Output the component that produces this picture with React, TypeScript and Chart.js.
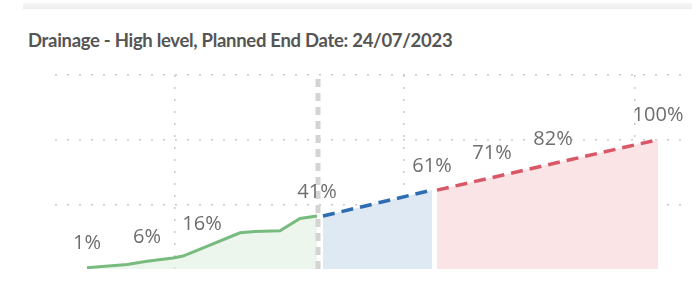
import React, { useEffect, useRef } from "react";
import { Chart, registerables } from "chart.js";

Chart.register(...registerables);

// x positions are in "timeline units"; y values are percent complete
const actualX = [3.2, 7.2, 9.2, 11.8, 12.8, 14.7, 18.5, 20.0, 22.5, 24.5, 26.2];
const actualY = [1, 3.5, 6, 8.5, 10, 16, 28, 29, 29.5, 39, 41];
const nearX = [26.8, 37.7];
const nearY = [41, 61];
const laterX = [38.2, 60.3];
const laterY = [61, 100];
const todayX = 26.3;
const labelX = [3.2, 9.2, 14.7, 26.2, 37.7, 43.7, 49.8, 60.3];
const labelY = [1, 6, 16, 41, 61, 71, 82, 100];
const labelText = ["1%", "6%", "16%", "41%", "61%", "71%", "82%", "100%"];
const gridX = [12, 34.9, 58];
const gridY = [50, 100, 150];
const title = "Drainage - High level, Planned End Date: 24/07/2023";

const pts = (xs: number[], ys: number[]) => xs.map((x, i) => ({ x, y: ys[i] }));

const labelPlugin = {
  id: "pctLabels",
  afterDatasetsDraw(chart: any) {
    const { ctx, scales } = chart;
    ctx.save();
    ctx.font = '20px "Open Sans", sans-serif';
    ctx.fillStyle = "#6e6e6e";
    ctx.textAlign = "center";
    ctx.textBaseline = "middle";
    labelX.forEach((x, i) => {
      const px = scales.x.getPixelForValue(x);
      const py = scales.y.getPixelForValue(labelY[i]);
      ctx.fillText(labelText[i], px, py - 24);
    });
    ctx.restore();
  },
};

export default function App() {
  const ref = useRef<HTMLCanvasElement | null>(null);
  useEffect(() => {
    if (!ref.current) return;
    const chart = new Chart(ref.current, {
      type: "line",
      data: {
        datasets: [
          {
            data: pts([todayX, todayX], [0, 150]),
            borderColor: "#d4d4d4",
            borderWidth: 5,
            borderDash: [8, 6],
            pointRadius: 0,
            fill: false,
          },
          {
            data: pts(actualX, actualY),
            borderColor: "#78bb7f",
            backgroundColor: "rgba(225,240,224,0.6)",
            borderWidth: 3,
            pointRadius: 0,
            fill: "origin",
          },
          {
            data: pts(nearX, nearY),
            borderColor: "#2f6db3",
            backgroundColor: "#dfe9f4",
            borderWidth: 3.5,
            borderDash: [12, 7],
            pointRadius: 0,
            fill: "origin",
          },
          {
            data: pts(laterX, laterY),
            borderColor: "#d95868",
            backgroundColor: "#fbe4e6",
            borderWidth: 3.5,
            borderDash: [12, 7],
            pointRadius: 0,
            fill: "origin",
          },
        ],
      },
      options: {
        animation: false,
        responsive: false,
        maintainAspectRatio: false,
        layout: { padding: { left: 55, right: 2, top: 75, bottom: 18 } },
        plugins: { legend: { display: false }, tooltip: { enabled: false } },
        scales: {
          x: {
            type: "linear",
            min: 0,
            max: 63.5,
            afterBuildTicks: (axis: any) => {
              axis.ticks = gridX.map((v) => ({ value: v }));
            },
            ticks: { display: false },
            border: { display: false, dash: [2, 10] },
            grid: { color: "#c9c9c9", lineWidth: 1.5, drawTicks: false },
          },
          y: {
            type: "linear",
            min: 0,
            max: 150,
            afterBuildTicks: (axis: any) => {
              axis.ticks = gridY.map((v) => ({ value: v }));
            },
            ticks: { display: false },
            border: { display: false, dash: [2, 10] },
            grid: { color: "#c9c9c9", lineWidth: 1.5, drawTicks: false },
          },
        },
      },
      plugins: [labelPlugin],
    });
    return () => chart.destroy();
  }, []);

  return (
    <div style={{ position: "absolute", left: 0, top: 0, width: 692, height: 287, background: "#fff", overflow: "hidden" }}>
      <div style={{ position: "absolute", left: 23, right: 0, top: 3, height: 6, background: "linear-gradient(#f7f7f7, #ececec)" }} />
      <div
        style={{
          position: "absolute",
          left: 28,
          top: 28,
          fontFamily: "Lato, sans-serif",
          fontWeight: 700,
          fontSize: 18.5,
          letterSpacing: -0.3,
          color: "#555",
          whiteSpace: "nowrap",
          lineHeight: "24px",
        }}
      >
        {title}
      </div>
      <canvas ref={ref} width={692} height={287} style={{ position: "absolute", left: 0, top: 0 }} />
    </div>
  );
}
